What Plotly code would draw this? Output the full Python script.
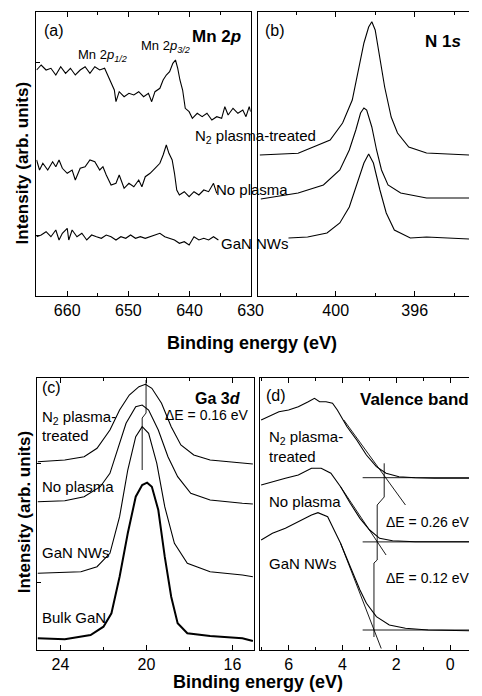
import plotly.graph_objects as go

W, H = 482, 696
FONT = "Liberation Sans, Arial, sans-serif"

# ---------------- Panel (a): Mn 2p ----------------
a_n2_E = [665.0, 664.25, 663.45, 662.66, 661.86, 661.06, 660.26, 659.47, 658.67, 657.87,
          657.07, 656.28, 655.48, 654.68, 653.88, 653.36, 652.82, 652.29, 652.02, 651.49,
          650.69, 649.90, 649.10, 648.30, 647.50, 646.71, 646.18, 645.64, 644.84, 644.31,
          643.79, 643.25, 642.72, 642.29, 641.92, 641.56, 641.12, 640.69, 640.06, 639.53,
          638.73, 637.93, 637.14, 636.34, 635.54, 634.74, 634.22, 633.68, 632.88, 632.08,
          631.28, 630.76, 630.23, 630.0]
a_n2_I = [225.5, 230.5, 225.5, 227.2, 220.5, 228.8, 222.2, 227.2, 220.5, 225.5,
          228.8, 222.2, 228.8, 225.5, 227.2, 220.5, 213.8, 205.5, 193.8, 203.8,
          198.8, 202.2, 200.5, 203.8, 198.8, 202.2, 193.8, 203.8, 207.2, 215.5,
          220.5, 223.8, 232.2, 235.5, 227.2, 215.5, 205.5, 187.2, 183.8, 177.2,
          182.2, 178.8, 182.2, 175.5, 178.8, 177.2, 188.8, 180.5, 187.2, 182.2,
          185.5, 178.8, 188.8, 183.8]

a_np_E = [665.0, 664.52, 663.98, 663.18, 662.38, 661.86, 661.33, 660.79, 659.99, 659.19,
          658.67, 657.87, 657.07, 656.28, 655.48, 654.68, 654.15, 653.61, 652.82, 652.02,
          651.49, 650.69, 649.90, 649.10, 648.30, 647.78, 647.23, 646.44, 645.64, 644.84,
          644.31, 643.79, 643.36, 642.83, 642.45, 642.08, 641.65, 640.85, 640.06, 639.26,
          638.46, 637.66, 636.87, 636.07, 635.54]
a_np_I = [135.5, 125.5, 132.2, 125.5, 133.8, 128.8, 135.5, 127.2, 122.2, 125.5,
          115.5, 127.2, 128.8, 135.5, 133.8, 125.5, 128.8, 120.5, 110.5, 112.2,
          120.5, 107.2, 112.2, 108.8, 115.5, 108.8, 118.8, 122.2, 127.2, 132.2,
          140.5, 150.5, 142.2, 135.5, 122.2, 105.5, 100.5, 103.8, 98.8, 103.8,
          100.5, 105.5, 103.8, 112.2, 102.2]

a_nw_E = [665.0, 664.25, 663.45, 662.66, 661.86, 661.33, 660.79, 659.99, 659.74, 659.19,
          658.40, 657.60, 656.80, 656.00, 655.21, 654.41, 653.61, 652.82, 652.02, 651.22,
          650.42, 649.63, 648.83, 648.03, 647.23, 646.44, 645.64, 644.84, 644.04, 643.25,
          642.45, 641.65, 640.85, 640.06, 639.26, 638.46, 637.66, 636.87, 636.07, 635.27]
a_nw_I = [58.8, 60.5, 63.8, 58.8, 65.5, 55.5, 62.2, 67.2, 55.5, 65.5,
          58.8, 62.2, 55.5, 60.5, 58.8, 57.2, 60.5, 58.8, 55.5, 58.8,
          57.2, 60.5, 57.2, 58.8, 57.2, 58.8, 60.5, 62.2, 58.8, 57.2,
          55.5, 52.2, 53.8, 50.5, 58.8, 55.5, 57.2, 55.5, 58.8, 55.5]

# ---------------- Panel (b): N 1s ----------------
b_n2_E = [403.84, 401.9, 400.28, 399.65, 399.16, 398.82, 398.57, 398.33, 398.17, 398.0,
          397.76, 397.52, 397.19, 396.87, 396.30, 395.40, 393.25]
b_n2_I = [140.5, 142.2, 155.5, 172.5, 195.5, 228.5, 252.5, 268.5, 273.8, 265.5,
          238.5, 208.5, 178.5, 162.5, 148.5, 142.5, 140.5]

b_np_E = [403.79, 401.9, 400.62, 399.79, 399.31, 398.98, 398.74, 398.57, 398.43, 398.17,
          397.93, 397.68, 397.35, 396.71, 395.40, 393.25]
b_np_I = [96.5, 102.5, 110.5, 125.5, 145.5, 165.5, 182.5, 187.5, 185.5, 168.5,
          145.5, 125.5, 110.5, 102.5, 97.5, 97.5]

b_nw_E = [402.39, 401.42, 400.44, 399.79, 399.31, 398.90, 398.57, 398.33, 398.09, 397.76,
          397.44, 397.03, 396.22, 395.40, 393.25]
b_nw_I = [57.5, 58.5, 62.5, 72.5, 88.5, 112.5, 132.5, 141.5, 132.5, 105.5,
          82.5, 65.5, 57.5, 58.5, 56.5]

# ---------------- Panel (c): Ga 3d ----------------
c_n2_E = [25.06, 23.80, 22.90, 22.30, 21.70, 21.25, 20.80, 20.35, 20.05, 19.75,
          19.30, 18.85, 18.40, 17.80, 17.04, 15.54, 15.05]
c_n2_I = [187.8, 189.5, 192.8, 201.2, 219.5, 239.5, 254.5, 262.8, 265.2, 261.2,
          246.2, 222.8, 204.5, 194.5, 189.5, 186.2, 185.5]

c_np_E = [25.06, 23.80, 22.90, 22.15, 21.70, 21.25, 20.95, 20.50, 20.20, 19.90,
          19.45, 19.00, 18.55, 17.94, 17.04, 15.54, 15.05]
c_np_I = [147.8, 148.8, 152.8, 162.8, 176.2, 206.2, 226.2, 242.8, 244.5, 239.5,
          219.5, 192.8, 172.8, 156.2, 149.5, 146.2, 145.5]

c_nw_E = [25.06, 23.05, 22.30, 21.70, 21.25, 20.87, 20.50, 20.20, 19.90, 19.52,
          19.15, 18.70, 18.10, 17.04, 15.54, 15.05]
c_nw_I = [76.2, 77.8, 82.8, 96.2, 132.8, 179.5, 212.8, 222.8, 216.2, 186.2,
          142.8, 106.2, 86.2, 77.8, 74.5, 72.8]

c_bulk_E = [25.06, 23.80, 22.60, 22.00, 21.63, 21.25, 20.87, 20.50, 20.20, 19.97,
            19.75, 19.45, 19.15, 18.85, 18.55, 18.10, 17.04, 15.54, 15.05]
c_bulk_I = [11.2, 10.2, 14.5, 22.8, 36.2, 72.8, 116.2, 152.8, 164.5, 166.8,
            162.8, 139.5, 92.8, 52.8, 26.2, 16.2, 13.5, 11.2, 8.5]

c_mark_E = [20.02, 20.02, 20.20, 20.20]
c_mark_I = [269.5, 236.5, 231.5, 179.5]

# ---------------- Panel (d): Valence band ----------------
d_n2_E = [7.02, 6.72, 6.36, 6.00, 5.64, 5.27, 5.04, 4.85, 4.61, 4.37,
          4.19, 3.83, 3.47, 3.11, 2.74, 2.38, 1.90, 1.30, 0.58, -0.70]
d_n2_I = [229.5, 233.5, 237.8, 239.5, 242.8, 247.8, 251.2, 247.8, 247.8, 246.2,
          239.5, 222.8, 209.5, 194.5, 182.8, 176.2, 172.8, 171.8, 171.2, 171.2]

d_np_E = [7.02, 6.60, 6.12, 5.64, 5.15, 4.79, 4.43, 4.07, 3.71, 3.35,
          2.99, 2.62, 2.14, 1.30, -0.70]
d_np_I = [164.5, 167.8, 171.2, 174.5, 181.2, 181.2, 176.2, 162.8, 146.2, 131.2,
          119.5, 111.2, 108.8, 107.8, 107.8]

d_nw_E = [7.02, 6.60, 6.12, 5.64, 5.15, 4.91, 4.55, 4.31, 4.07, 3.71,
          3.35, 3.11, 2.74, 2.26, 1.66, 0.82, -0.70]
d_nw_I = [109.5, 116.2, 121.2, 127.8, 134.5, 136.8, 132.8, 119.5, 106.2, 82.8,
          59.5, 46.2, 32.8, 24.5, 21.2, 19.5, 18.8]

d_base_I = [171.8, 107.6, 19.5]
d_base_E = [3.25, -0.70]
d_tan_E = [[3.95, 1.66], [4.07, 2.38], [4.07, 2.56]]
d_tan_I = [[229.5, 144.5], [162.8, 94.5], [106.2, 1.0]]
d_mark_E = [2.45, 2.45, 2.71, 2.71, 2.83, 2.83]
d_mark_I = [186.2, 152.5, 144.5, 89.5, 86.5, 12.5]

fig = go.Figure()
LW = 1.1


def line(x, y, ax, width=LW):
    fig.add_trace(go.Scatter(x=x, y=y, mode="lines", xaxis="x" + ax, yaxis="y" + ax,
                             line=dict(color="black", width=width), showlegend=False,
                             hoverinfo="skip"))


line(a_n2_E, a_n2_I, "")
line(a_np_E, a_np_I, "")
line(a_nw_E, a_nw_I, "")
line(b_n2_E, b_n2_I, "2")
line(b_np_E, b_np_I, "2")
line(b_nw_E, b_nw_I, "2")
line(c_n2_E, c_n2_I, "3")
line(c_np_E, c_np_I, "3")
line(c_nw_E, c_nw_I, "3")
line(c_bulk_E, c_bulk_I, "3", width=2)
line(c_mark_E, c_mark_I, "3", width=0.9)
line(d_n2_E, d_n2_I, "4")
line(d_np_E, d_np_I, "4")
line(d_nw_E, d_nw_I, "4")
for lvl in d_base_I:
    line(d_base_E, [lvl, lvl], "4", width=0.9)
for tx, ty in zip(d_tan_E, d_tan_I):
    line(tx, ty, "4", width=0.9)
line(d_mark_E, d_mark_I, "4", width=0.9)


def px(x):
    return x / W


def py(y):
    return 1 - y / H


def xax(dom, rng, dtick, minor, anchor):
    return dict(domain=dom, range=rng, anchor=anchor, showline=True, linecolor="black",
                linewidth=1, mirror="allticks", ticks="inside", ticklen=5, tickwidth=1,
                tickcolor="black", dtick=dtick, tick0=0, showgrid=False, zeroline=False,
                tickfont=dict(family=FONT, size=16, color="black"),
                minor=dict(dtick=minor, ticks="inside", ticklen=3, tickcolor="black",
                           showgrid=False))


def yax(dom, rng, mirror, tv, anchor):
    return dict(domain=dom, range=rng, anchor=anchor, showline=True, linecolor="black",
                linewidth=1, mirror=mirror, showticklabels=False,
                ticks="inside" if tv else "", tickvals=tv, ticklen=4, tickcolor="black",
                showgrid=False, zeroline=False)


top_dom = [py(295.5), py(12)]
bot_dom = [py(649.5), py(378)]

fig.update_layout(
    width=W, height=H, margin=dict(l=0, r=0, t=0, b=0),
    paper_bgcolor="white", plot_bgcolor="white", showlegend=False,
    xaxis=xax([px(37.3), px(257.7)], [665.05, 629.98], 10, 5, "y"),
    yaxis=yax(top_dom, [0, 283.5], True, [60.5, 233.5], "x"),
    xaxis2=xax([px(265), 1.0], [403.94, 393.25], 4, 2, "y2"),
    yaxis2=yax(top_dom, [0, 283.5], False, None, "x2"),
    xaxis3=xax([px(38.3), px(261)], [25.08, 15.0], 4, 2, "y3"),
    yaxis3=yax(bot_dom, [0, 271.5], True, [67.5, 186.5], "x3"),
    xaxis4=xax([px(267), 1.0], [7.07, -0.70], 2, 1, "y4"),
    yaxis4=yax(bot_dom, [0, 271.5], False, None, "x4"),
)


def ann(text, x, y, size=15, xanchor="left", angle=0):
    fig.add_annotation(text=text, x=px(x), y=py(y), xref="paper", yref="paper",
                       xanchor=xanchor, yanchor="middle", showarrow=False, textangle=angle,
                       borderpad=0, font=dict(family=FONT, size=size, color="black"))


# panel (a)
ann("(a)", 44, 31, 16)
ann("<b>Mn 2<i>p</i></b>", 249, 37, 17, "right")
ann("Mn 2<i>p</i><sub><i>1/2</i></sub>", 79, 55, 13)
ann("Mn 2<i>p</i><sub><i>3/2</i></sub>", 144, 46, 13)
ann("N<sub>2</sub> plasma-treated", 199, 136, 15)
ann("No plasma", 221, 190, 15)
ann("GaN NWs", 226, 243, 15)
# panel (b)
ann("(b)", 271, 30, 16)
ann("<b>N 1<i>s</i></b>", 455, 42, 17, "center")
# panel (c)
ann("(c)", 42, 387, 16)
ann("<b>Ga 3<i>d</i></b>", 249, 398, 16, "right")
ann("ΔE = 0.16 eV", 169, 415, 14)
ann("N<sub>2</sub> plasma-", 42, 417, 15)
ann("treated", 42, 436, 15)
ann("No plasma", 42, 486, 15)
ann("GaN NWs", 42, 552, 15)
ann("Bulk GaN", 42, 617, 15)
# panel (d)
ann("(d)", 272, 395, 16)
ann("<b>Valence band</b>", 369, 399, 17)
ann("N<sub>2</sub> plasma-", 275, 437, 15)
ann("treated", 275, 456, 15)
ann("No plasma", 275, 501, 15)
ann("GaN NWs", 275, 563, 15)
ann("ΔE = 0.26 eV", 396, 522, 14)
ann("ΔE = 0.12 eV", 396, 578, 14)
# axis titles
ann("<b>Binding energy (eV)</b>", 259, 343, 18, "center")
ann("<b>Binding energy (eV)</b>", 265, 682, 18, "center")
ann("<b>Intensity (arb. units)</b>", 23, 163, 17, "center", -90)
ann("<b>Intensity (arb. units)</b>", 25, 512, 17, "center", -90)

fig.write_html("out.html", config={"displayModeBar": False},
               post_script="document.body.style.margin='0';document.body.style.overflow='hidden';")
